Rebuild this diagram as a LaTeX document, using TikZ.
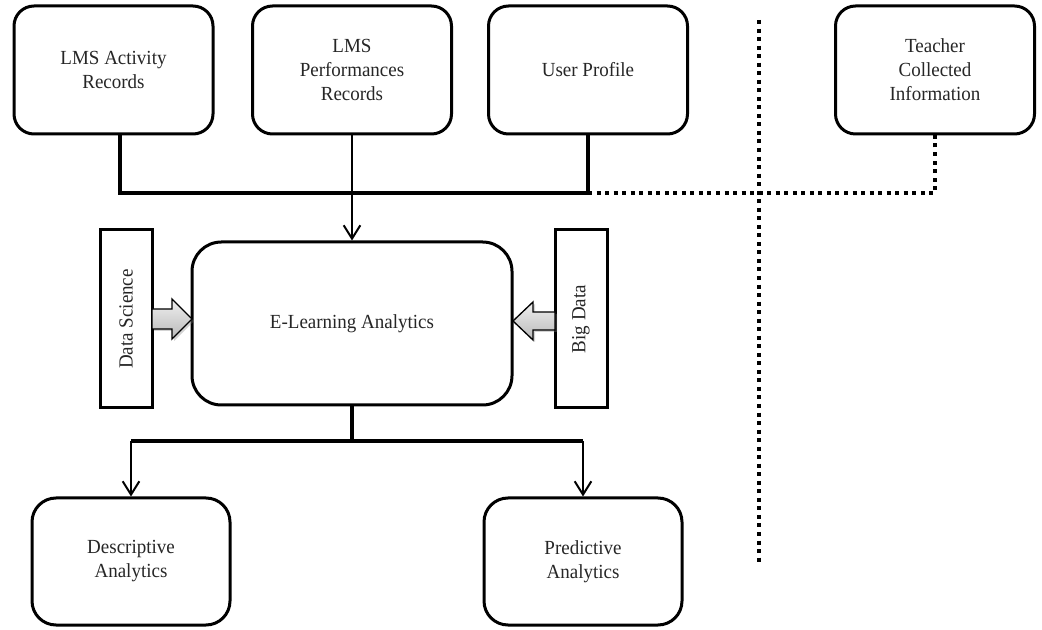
\documentclass[tikz,border=0pt]{standalone}
\usepackage{fontspec}
\setmainfont{Liberation Serif}[FakeStretch=0.95]
\usetikzlibrary{arrows.meta,calc,shadows}
\begin{document}
\begin{tikzpicture}[x=0.75pt,y=-0.75pt,
  txt/.style={align=center,font=\fontsize{15}{18}\selectfont,text=black!85},
  box/.style={txt,draw,line width=2.25pt,rounded corners=15pt,minimum width=149.25pt,minimum height=96pt},
  bigbox/.style={txt,draw,line width=2.25pt,rounded corners=22pt,minimum width=240pt,minimum height=122.25pt},
  sidebox/.style={txt,draw,line width=2.25pt,minimum width=133.5pt,minimum height=39pt,rotate=90},
  lowbox/.style={txt,draw,line width=2.25pt,rounded corners=18pt,minimum width=148.5pt,minimum height=95.25pt},
  busline/.style={line width=3pt},
  thinline/.style={line width=1pt},
  arr/.style={line width=1.5pt,-{Straight Barb[length=10pt,width=12.5pt,line width=1.5pt]}},
  dotline/.style={line width=3pt,dash pattern=on 3pt off 3.4pt},
  blockarr/.style={draw,line width=1pt,top color=gray!12,bottom color=gray!55,
    drop shadow={shadow xshift=1.5pt,shadow yshift=-1.5pt,opacity=0.35}}
]
\useasboundingbox (0,0) rectangle (1042,630);

\node[box] (a1) at (113.5,70) {LMS Activity\\Records};
\node[box] (a2) at (352,70) {LMS\\Performances\\Records};
\node[box] (a3) at (588,70) {User Profile};
\node[box] (a4) at (935,70) {Teacher\\Collected\\Information};

\node[bigbox] (ela) at (352,323.5) {E-Learning Analytics};
\node[sidebox] (ds) at (126,319) {Data Science};
\node[sidebox] (bd) at (581,319) {Big Data};

\node[lowbox] (desc) at (131,561.5) {Descriptive\\Analytics};
\node[lowbox] (pred) at (583,561.5) {Predictive\\Analytics};

\coordinate (d1x) at (120,0);
\coordinate (busy) at (0,193);
\coordinate (boty) at (0,441);
\coordinate (vt) at (759,20);
\coordinate (vb) at (759,565);

% top bus
\draw[busline] (a1.south -| d1x) -- (d1x |- busy) -- (a3.south |- busy) -- (a3.south);
\draw[thinline] (a2.south) -- (a2.south |- busy);
\draw[arr] (a2.south |- busy) -- (ela.north);

% dotted connections
\draw[dotline] (a3.south |- busy) -- (a4.south |- busy) -- (a4.south);
\draw[dotline] (vt) -- (vb);

% block arrows
\path[blockarr] (152,309) -- (172,309) -- (172,299) -- (192,319) -- (172,339) -- (172,329) -- (152,329) -- cycle;
\path[blockarr] (555,312) -- (533,312) -- (533,302) -- (513,321) -- (533,340) -- (533,330) -- (555,330) -- cycle;

% bottom bus
\draw[busline] (ela.south) -- (ela.south |- boty);
\draw[busline] (desc.north |- boty) -- (pred.north |- boty);
\draw[arr] (desc.north |- boty) -- (desc.north);
\draw[arr] (pred.north |- boty) -- (pred.north);
\end{tikzpicture}
\end{document}
